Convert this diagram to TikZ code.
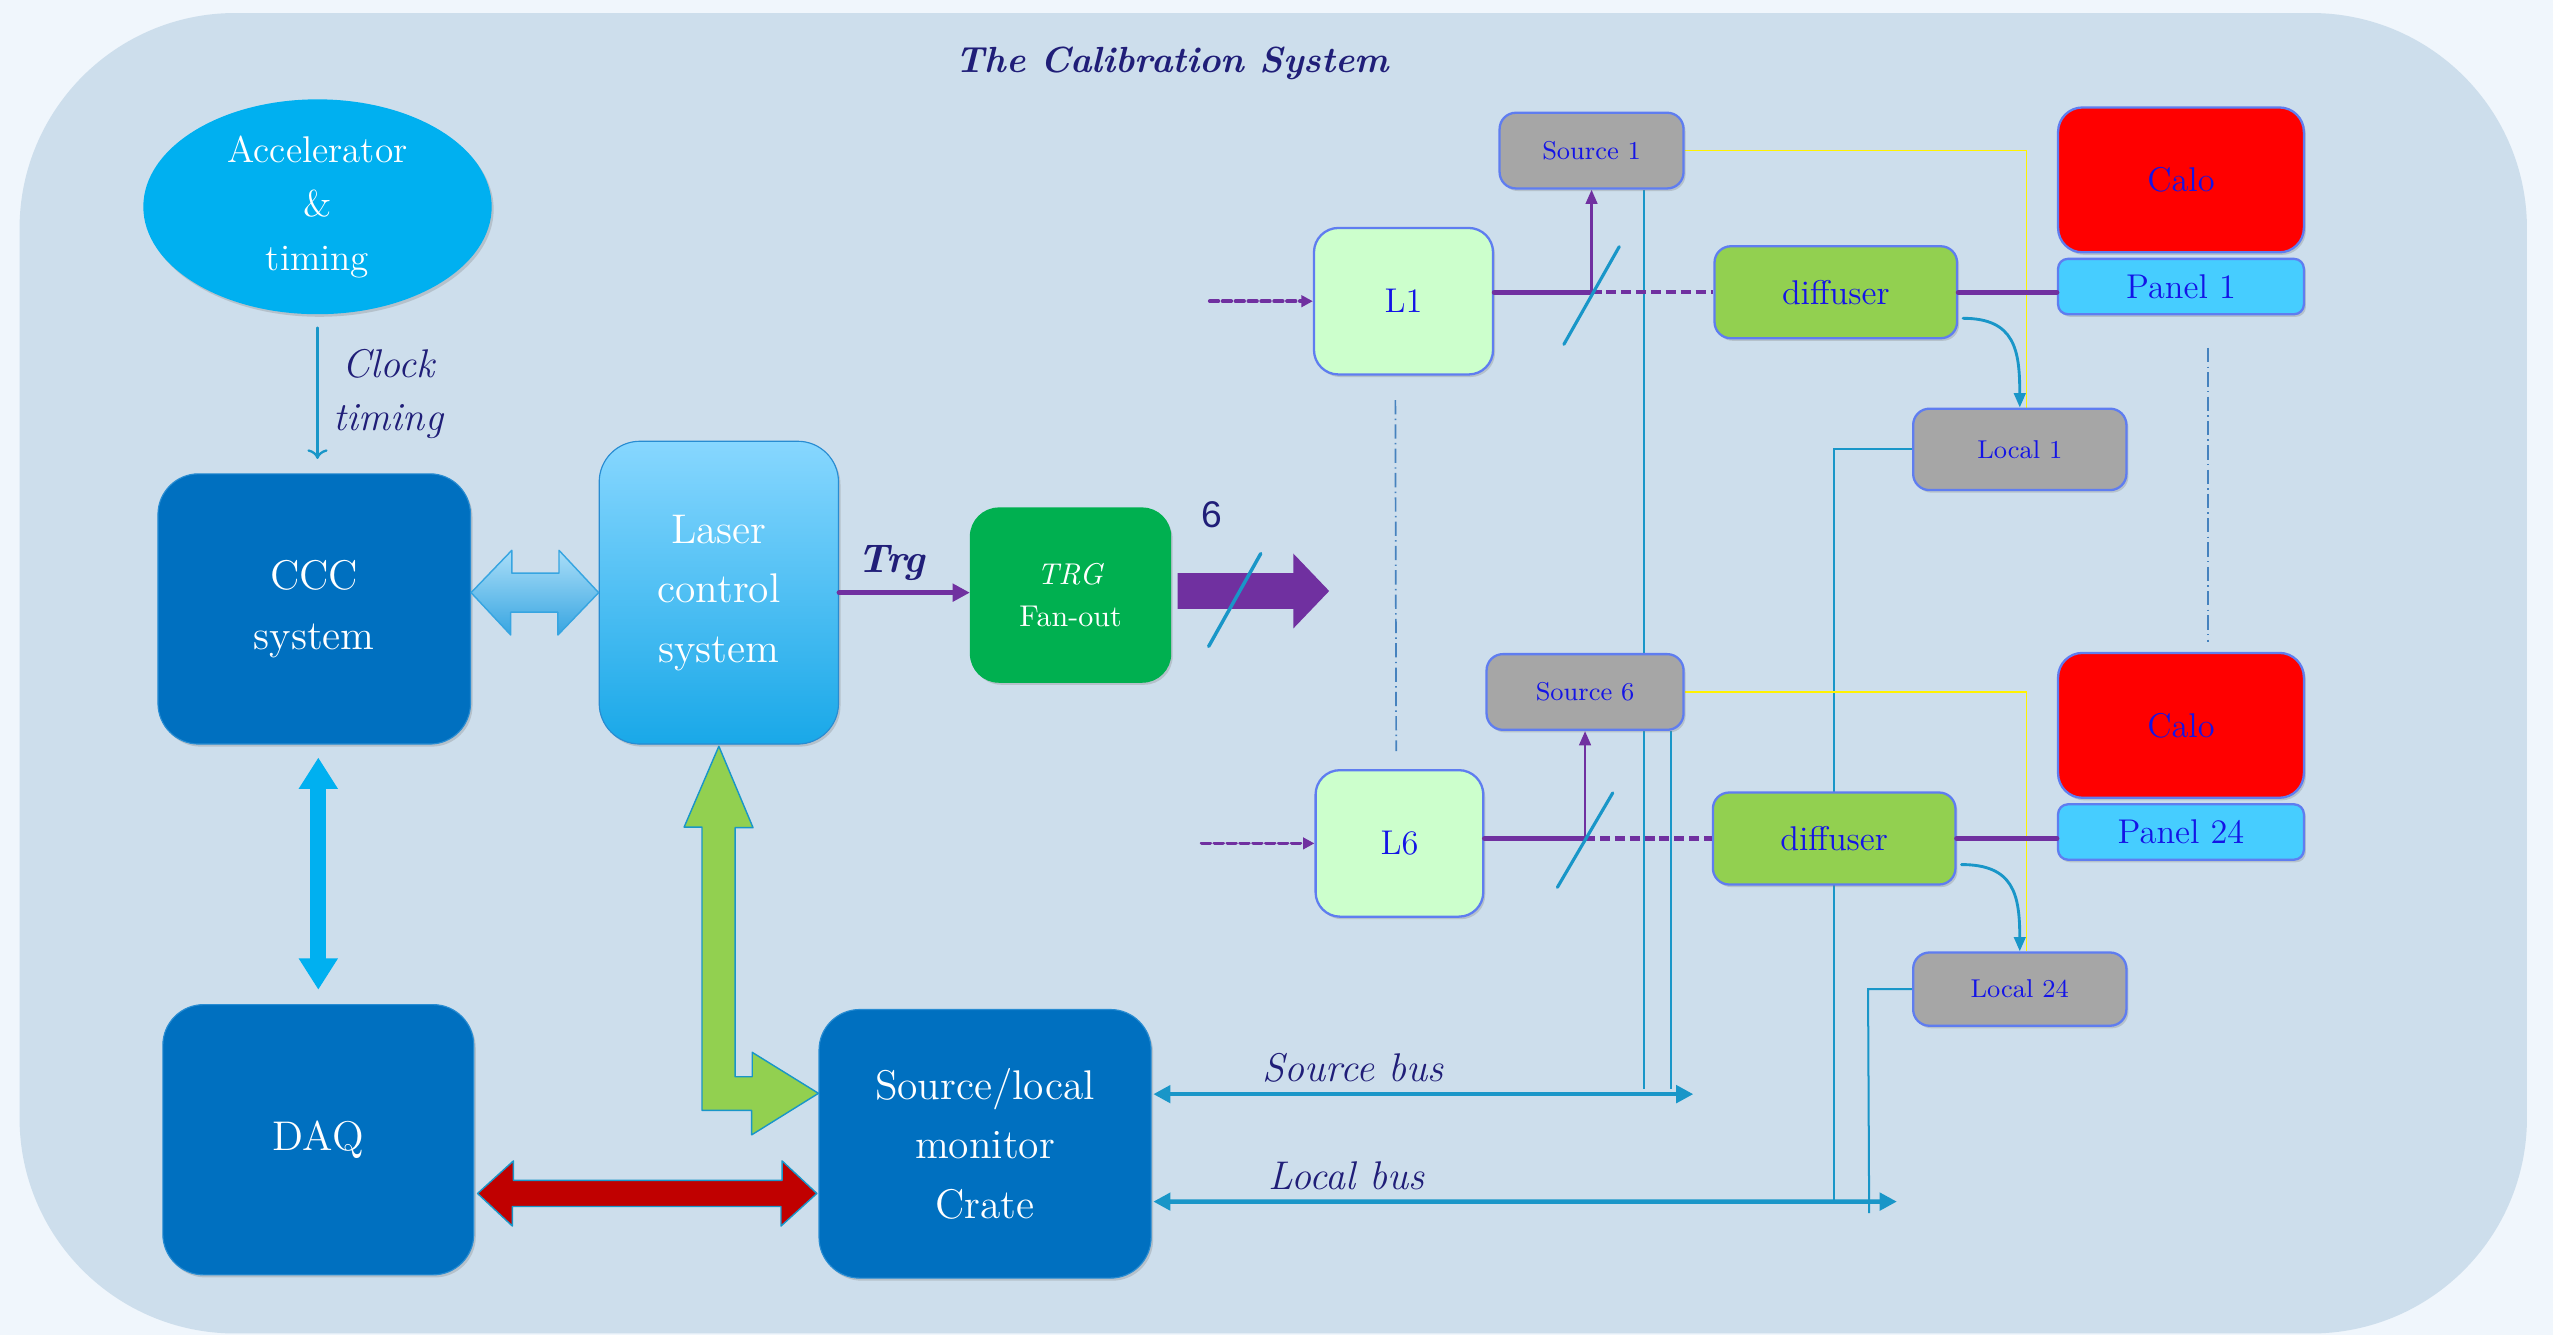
\documentclass[tikz,border=0pt]{standalone}
\usepackage{fontspec}
\usetikzlibrary{calc,arrows.meta,shapes.geometric,shadows}
\newfontfamily\digitfont{Liberation Sans}

\definecolor{bgouter}{RGB}{240,246,252}
\definecolor{bginner}{RGB}{205,222,236}
\definecolor{navytext}{RGB}{32,30,120}
\definecolor{boxblue}{RGB}{0,112,192}
\definecolor{boxedge}{RGB}{40,140,210}
\definecolor{cyanacc}{RGB}{0,176,240}
\definecolor{lasertop}{RGB}{135,215,255}
\definecolor{laserbot}{RGB}{25,168,232}
\definecolor{trggreen}{RGB}{0,176,80}
\definecolor{beampurple}{RGB}{112,48,160}
\definecolor{busblue}{RGB}{25,150,200}
\definecolor{lightgreen}{RGB}{204,255,204}
\definecolor{diffgreen}{RGB}{146,208,80}
\definecolor{srcgray}{RGB}{166,166,166}
\definecolor{panelcyan}{RGB}{70,205,255}
\definecolor{edgeblue}{RGB}{95,125,240}
\definecolor{textblue}{RGB}{20,20,230}
\definecolor{dashblue}{RGB}{70,130,190}
\definecolor{daqred}{RGB}{192,0,0}
\definecolor{arrowtop}{RGB}{170,222,248}
\definecolor{arrowbot}{RGB}{55,165,225}

\pgfdeclarelayer{bg}
\pgfdeclarelayer{wires}
\pgfsetlayers{bg,wires,main}

\begin{document}
\begin{tikzpicture}[line cap=round,line join=round,x=0.02cm,y=-0.02cm,
        softshadow/.style={drop shadow={shadow xshift=0.7pt,shadow yshift=-0.9pt,opacity=0.3}},
        bigbox/.style={draw=boxedge,fill=boxblue,rounded corners=0.5cm,text=white,align=center,
            font=\fontsize{14.5}{20.8}\selectfont,softshadow},
        labbox/.style={draw=edgeblue,line width=0.8pt,text=textblue,align=center,softshadow},
        lbox/.style={labbox,fill=lightgreen,rounded corners=0.3cm,minimum height=1.8cm,
            font=\fontsize{12}{14}\selectfont},
        srcbox/.style={labbox,fill=srcgray,rounded corners=0.2cm,minimum height=0.93cm,
            font=\fontsize{9}{11}\selectfont},
        localbox/.style={labbox,fill=srcgray,rounded corners=0.2cm,minimum width=2.62cm,
            font=\fontsize{9}{11}\selectfont},
        diffbox/.style={labbox,fill=diffgreen,rounded corners=0.2cm,minimum width=2.98cm,
            minimum height=1.13cm,font=\fontsize{12}{14}\selectfont},
        calobox/.style={labbox,fill=red,rounded corners=0.3cm,minimum width=3.02cm,
            minimum height=1.78cm,font=\fontsize{12}{14}\selectfont},
        panelbox/.style={labbox,fill=panelcyan,rounded corners=0.12cm,minimum width=3.02cm,
            minimum height=0.68cm,font=\fontsize{12}{14}\selectfont},
        navylabel/.style={text=navytext,font=\fontsize{14}{18.8}\selectfont\itshape,align=center},
        beam/.style={beampurple,line width=1.7pt},
        beamdash/.style={beampurple,line width=1.5pt,line cap=butt,dash pattern=on 3.5pt off 1.7pt},
        bus/.style={busblue,line width=1.6pt,{Triangle[length=6pt,width=6pt]}-{Triangle[length=6pt,width=6pt]}},
        busthin/.style={busblue,line width=0.7pt},
        dashdotline/.style={dashblue,line width=0.6pt,dash pattern=on 5pt off 1.5pt on 0.5pt off 1.5pt}
    ]
    \useasboundingbox (0,0) rectangle (1568,820);
    \begin{pgfonlayer}{bg}
        \fill[bgouter] (0,0) rectangle (1568,820);
        \fill[bginner,rounded corners=2.65cm] (12,8) rectangle (1552,819);
    \end{pgfonlayer}

    \node[text=navytext,font=\fontsize{12.7}{15}\selectfont\bfseries\itshape] (title) at (720,39) {The Calibration System};

    \node[ellipse,fill=cyanacc,minimum width=4.28cm,minimum height=2.64cm,inner sep=0pt,text=white,
        align=center,font=\fontsize{13}{18.8}\selectfont,softshadow] (acc) at (195,127) {Accelerator\\\&\\timing};
    \node[bigbox,minimum width=3.84cm,minimum height=3.32cm] (ccc) at (193,374) {CCC\\system};
    \node[bigbox,draw=boxedge,top color=lasertop,bottom color=laserbot,minimum width=2.94cm,
        minimum height=3.72cm] (laser) at (441.5,364) {Laser\\control\\system};
    \node[bigbox,fill=trggreen,draw=trggreen,rounded corners=0.35cm,minimum width=2.46cm,minimum height=2.14cm,
        font=\fontsize{10.5}{14.8}\selectfont] (trg) at (657.5,365.5) {\textit{TRG}\\Fan-out};
    \node[bigbox,minimum width=3.82cm,minimum height=3.32cm] (daq) at (195.5,700) {DAQ};
    \node[bigbox,minimum width=4.08cm,minimum height=3.3cm] (crate) at (605,702.5) {Source/local\\monitor\\Crate};

    \node[lbox,minimum width=2.2cm] (l1) at (862,185) {L1};
    \node[lbox,minimum width=2.06cm] (l6) at (859.5,518) {L6};
    \node[srcbox,minimum width=2.26cm] (src1) at (977.5,92.5) {Source 1};
    \node[srcbox,minimum width=2.42cm] (src6) at (973.5,425) {Source 6};
    \node[diffbox] (diff1) at (1127.5,179.5) {diffuser};
    \node[diffbox] (diff24) at (1126.5,515) {diffuser};
    \node[calobox] (calo1) at (1339.5,110.5) {Calo};
    \node[panelbox] (panel1) at (1339.5,176) {Panel 1};
    \node[calobox] (calo24) at (1339.5,445.5) {Calo};
    \node[panelbox] (panel24) at (1339.5,511) {Panel 24};
    \node[localbox,minimum height=1cm] (loc1) at (1240.5,276) {Local 1};
    \node[localbox,minimum height=0.9cm] (loc24) at (1240.5,607.5) {Local 24};

    \draw[busblue,line width=0.8pt,->,shorten <=4.5pt,shorten >=5pt] (acc.south) -- (acc.south |- ccc.north)
        node[midway,anchor=west,xshift=2pt,navylabel] {Clock\\timing};

    \coordinate (cccr) at (ccc.east |- laser.west);
    \filldraw[top color=arrowtop,bottom color=arrowbot,draw=arrowbot,line width=0.5pt]
        (cccr) -- ++(25,-26) -- ++(0,14) -- ++(29,0) -- ++(0,-14) -- (laser.west)
        -- ++(-25,26) -- ++(0,-14) -- ++(-29,0) -- ++(0,14) -- cycle;

    \draw[cyanacc,line width=5.5pt,{Triangle[width=13pt,length=11pt]}-{Triangle[width=13pt,length=11pt]},
        shorten <=4.5pt,shorten >=5pt] (ccc.south -| daq.north) -- (daq.north);

    \coordinate (daqr) at ($(daq.east)+(2,33)$);
    \coordinate (cratel) at ($(crate.west)+(-1,30.5)$);
    \filldraw[fill=daqred,draw=busblue,line width=0.5pt]
        (daqr) -- ++(22,-20) -- ++(0,12) -- ++(165,0) -- ++(0,-12) -- (cratel)
        -- ++(-22,20) -- ++(0,-12) -- ++(-165,0) -- ++(0,12) -- cycle;

    \coordinate (lasb) at ($(laser.south)+(0,1)$);
    \coordinate (cratei) at ($(crate.west)+(0,-31)$);
    \filldraw[fill=diffgreen,draw=busblue,line width=0.5pt]
        (lasb) -- ++(21,50) -- ++(-11,0) -- ++(0,153) -- ++(10.5,0) -- ++(0,-15) -- (cratei)
        -- ++(-41,25.5) -- ++(0,-15) -- ++(-30.5,0) -- ++(0,-174) -- ++(-11,0) -- cycle;

    \draw[beam,-{Triangle[length=6pt,width=6pt]}] (laser.east) -- (laser.east -| trg.west)
        node[pos=0.4,above,navylabel,font=\fontsize{14}{16}\selectfont\bfseries\itshape] {Trg};

    \coordinate (fan) at ($(trg.east)+(4,-2.5)$);
    \fill[beampurple] (fan) ++(0,-11) -- ++(71,0) -- ++(0,-12) -- ++(22,23) -- ++(-22,23)
        -- ++(0,-12) -- ++(-71,0) -- cycle;
    \draw[busblue,line width=1.2pt] ($(fan)+(19,34)$) -- ($(fan)+(51,-23)$);
    \node[text=navytext,font=\fontsize{13}{15}\digitfont] (six) at (744,316) {6};

    \coordinate (in1) at (743,185);
    \coordinate (in6) at (738,518);
    \draw[beampurple,line width=1.3pt,dash pattern=on 3pt off 1.5pt,-{Triangle[length=4pt,width=4pt]}] (in1) -- (l1.west);
    \draw[beampurple,line width=1.3pt,dash pattern=on 3pt off 1.5pt,-{Triangle[length=4pt,width=4pt]}] (in6) -- (l6.west);

    \coordinate (split1) at (src1.south |- diff1.west);
    \coordinate (split6) at (src6.south |- diff24.west);
    \draw[beam] (diff1.west -| l1.east) -- (split1);
    \draw[beamdash] (split1) -- (diff1.west);
    \draw[beam,line width=1pt,-{Triangle[length=5pt,width=4pt]}] (split1) -- (src1.south);
    \draw[busblue,line width=1.1pt] ($(split1)+(-17,32)$) -- ($(split1)+(17,-28)$);
    \draw[beam] (diff24.west -| l6.east) -- (split6);
    \draw[beamdash] (split6) -- (diff24.west);
    \draw[beam,line width=1pt,-{Triangle[length=5pt,width=4pt]}] (split6) -- (src6.south);
    \draw[busblue,line width=1.1pt] ($(split6)+(-17,30)$) -- ($(split6)+(17,-28)$);

    \draw[beam] (diff1.east) -- (diff1.east -| panel1.west);
    \draw[beam] (diff24.east) -- (diff24.east -| panel24.west);

    \coordinate (sbusl) at ($(crate.east)+(1,-30.5)$);
    \coordinate (sbusr) at (1040,672);
    \coordinate (lbusl) at ($(crate.east)+(1,35.5)$);
    \coordinate (lbusr) at (1165,738);
    \draw[bus] (sbusl) -- node[pos=0.37,above,navylabel] {Source bus} (sbusr);
    \draw[bus] (lbusl) -- node[pos=0.26,above,navylabel] {Local bus} (lbusr);

    \begin{pgfonlayer}{wires}
        \coordinate (s1drop) at ($(src1.south)+(32.5,0)$);
        \coordinate (s6drop) at ($(src6.south)+(52.5,0)$);
        \draw[busthin] (s1drop) -- ($(s1drop |- sbusr)+(0,-3)$);
        \draw[busthin] (s6drop) -- ($(s6drop |- sbusr)+(0,-3)$);
        \coordinate (l1drop) at ($(loc1.west)+(-48,0)$);
        \coordinate (l24drop) at ($(loc24.west)+(-27,0)$);
        \coordinate (l24end) at ($(lbusr)+(-17,7)$);
        \draw[busthin] (loc1.west) -- (l1drop) -- (l1drop |- lbusr);
        \draw[busthin] (loc24.west) -- (l24drop) -- (l24end);
        \draw[yellow,line width=0.4pt] (src1.east) -| ($(loc1.north)+(4,0)$);
        \draw[yellow,line width=0.4pt] (src6.east) -| ($(loc24.north)+(4,0)$);
        \draw[dashdotline] ($(l1.south)+(-5,15)$) -- ($(l6.north)+(-2,-11)$);
        \draw[dashdotline] ($(panel1.south)+(16.5,20)$) -- ($(calo24.north)+(16.5,-6)$);
    \end{pgfonlayer}

    \coordinate (cs1) at ($(diff1.east)+(3,16)$);
    \coordinate (cs24) at ($(diff24.east)+(3,16)$);
    \draw[busblue,line width=1pt,-{Triangle[length=5pt,width=4pt]}] (cs1) .. controls +(32,0) and +(0,-35) .. (loc1.north);
    \draw[busblue,line width=1pt,-{Triangle[length=5pt,width=4pt]}] (cs24) .. controls +(32,0) and +(0,-35) .. (loc24.north);
\end{tikzpicture}
\end{document}
